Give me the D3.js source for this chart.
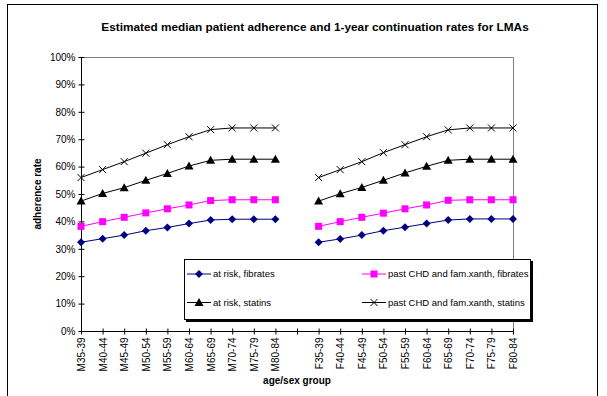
<!DOCTYPE html>
<html><head><meta charset="utf-8">
<script src="https://cdn.jsdelivr.net/npm/d3@7"></script>
<style>body{margin:0;background:#fff}svg{display:block}text{font-family:"Liberation Sans",Arial,sans-serif}</style>
</head><body><svg id="c" width="607" height="396"></svg>
<script>
const categories = ["M35-39","M40-44","M45-49","M50-54","M55-59","M60-64","M65-69","M70-74","M75-79","M80-84","",
  "F35-39","F40-44","F45-49","F50-54","F55-59","F60-64","F65-69","F70-74","F75-79","F80-84"];
const atRiskFibrates = [32.4,33.7,35.0,36.6,37.8,39.2,40.5,40.8,40.8,40.8,null,32.4,33.6,35.0,36.6,37.9,39.2,40.5,40.9,40.9,40.9];
const pastChdFibrates = [38.2,39.9,41.5,43.1,44.6,46.0,47.6,47.9,47.9,47.9,null,38.2,39.9,41.5,43.0,44.6,46.0,47.7,47.9,47.9,47.9];
const atRiskStatins = [47.4,50.2,52.3,55.0,57.5,60.2,62.3,62.7,62.7,62.7,null,47.4,50.1,52.4,55.0,57.7,60.1,62.3,62.7,62.7,62.7];
const pastChdStatins = [56.0,58.9,61.8,64.9,68.0,70.9,73.5,74.1,74.1,74.1,null,56.0,58.9,61.8,65.1,68.0,70.9,73.4,74.1,74.1,74.1];
const yTicks = [0,10,20,30,40,50,60,70,80,90,100];
const seriesNames = ["at risk, fibrates","past CHD and fam.xanth, fibrates","at risk, statins","past CHD and fam.xanth, statins"];

const svg = d3.select("#c");
const L=81, R=513, T=57, B=331;
svg.append("rect").attr("x",7.5).attr("y",4.5).attr("width",590).attr("height",420).attr("fill","none").attr("stroke","#000");
svg.append("text").attr("x",315).attr("y",31).attr("text-anchor","middle").attr("font-size",11.8).attr("font-weight","bold")
  .text("Estimated median patient adherence and 1-year continuation rates for LMAs");

const x = d3.scalePoint().domain(d3.range(categories.length)).range([L,R]);
const y = d3.scaleLinear().domain([0,100]).range([B,T]);

svg.append("path").attr("d",`M${L},${T+0.5}H${R+0.5}V${B}`).attr("fill","none").attr("stroke","#808080");

const ya = svg.append("g").attr("transform",`translate(${L+0.5},0)`)
  .call(d3.axisLeft(y).tickValues(yTicks).tickFormat(d=>d+"%").tickSize(3).tickPadding(3));
ya.select(".domain").attr("stroke","#000").attr("d",`M0,${T}V${B}`);
ya.selectAll(".tick line").attr("x1",3).attr("x2",-3);
ya.selectAll("text").attr("font-size",10).attr("font-family","Liberation Sans, Arial, sans-serif").attr("fill","#000");

const xa = svg.append("g").attr("transform",`translate(0,${B+0.5})`)
  .call(d3.axisBottom(x).tickFormat(i=>categories[i]).tickSize(3).tickPadding(0));
xa.select(".domain").attr("d",`M${L},0H${R}`).attr("stroke","#000");
xa.selectAll(".tick line").attr("y1",-3).attr("y2",3);
xa.selectAll("text").attr("font-size",10).attr("font-family","Liberation Sans, Arial, sans-serif").attr("fill","#000")
  .attr("transform","rotate(-90)").attr("text-anchor","end").attr("dy","0.35em").attr("x",-6).attr("y",0);

svg.append("text").attr("x",297).attr("y",384).attr("text-anchor","middle").attr("font-size",10).attr("font-weight","bold").text("age/sex group");
svg.append("text").attr("transform","translate(41,194) rotate(-90)").attr("text-anchor","middle").attr("font-size",10).attr("font-weight","bold").text("adherence rate");

const defs = [
  {data:atRiskFibrates, color:"#000080", marker:"diamond"},
  {data:pastChdFibrates, color:"#FF00FF", marker:"square"},
  {data:atRiskStatins, color:"#000000", marker:"triangle"},
  {data:pastChdStatins, color:"#000000", marker:"x"}
];
function drawMarker(g, type, cx, cy, color){
  if(type==="diamond") g.append("path").attr("d",`M${cx},${cy-4}L${cx+4},${cy}L${cx},${cy+4}L${cx-4},${cy}Z`).attr("fill",color);
  else if(type==="square") g.append("rect").attr("x",cx-3.5).attr("y",cy-3.5).attr("width",7).attr("height",7).attr("fill",color);
  else if(type==="triangle") g.append("path").attr("d",`M${cx},${cy-4.5}L${cx+4.5},${cy+3.5}L${cx-4.5},${cy+3.5}Z`).attr("fill",color);
  else g.append("path").attr("d",`M${cx-3.5},${cy-3.5}L${cx+3.5},${cy+3.5}M${cx+3.5},${cy-3.5}L${cx-3.5},${cy+3.5}`).attr("stroke",color).attr("stroke-width",1);
}
const line = d3.line().defined(d=>d.v!=null).x(d=>x(d.i)).y(d=>y(d.v));
defs.forEach(s=>{
  const pts = s.data.map((v,i)=>({i,v}));
  svg.append("path").attr("d",line(pts)).attr("fill","none").attr("stroke",s.color).attr("stroke-width",1);
  const g = svg.append("g");
  pts.filter(d=>d.v!=null).forEach(d=>drawMarker(g,s.marker,x(d.i),y(d.v),s.color));
});

const lg = svg.append("g");
lg.append("rect").attr("x",186).attr("y",261).attr("width",347).attr("height",61).attr("fill","#000");
lg.append("rect").attr("x",184.5).attr("y",259.5).attr("width",346).attr("height",60).attr("fill","#fff").attr("stroke","#000");
const lpos = [[187,274],[362,274],[187,302.5],[362,302.5]];
defs.forEach((s,k)=>{
  const [lx,ly]=lpos[k];
  lg.append("line").attr("x1",lx).attr("x2",lx+24).attr("y1",ly).attr("y2",ly).attr("stroke",s.color);
  drawMarker(lg,s.marker,lx+12,ly,s.color);
  lg.append("text").attr("x",lx+26).attr("y",ly).attr("dy","0.35em").attr("font-size",9.5).text(seriesNames[k]);
});
</script></body></html>
